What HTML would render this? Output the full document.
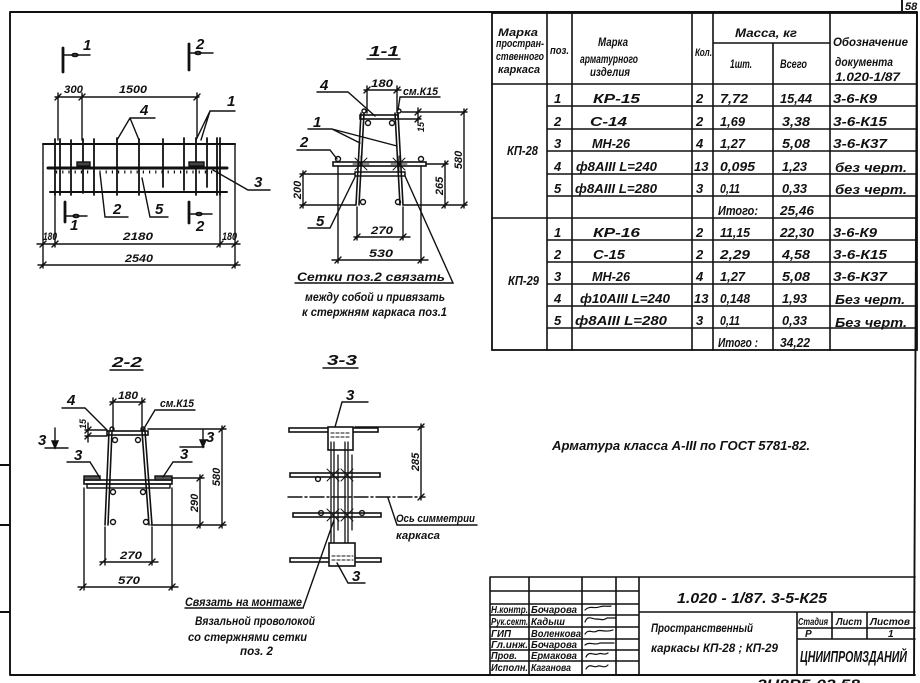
<!DOCTYPE html>
<html><head><meta charset="utf-8">
<style>
html,body{margin:0;padding:0;background:#fff;}
svg{display:block;}
text{font-family:"Liberation Sans","DejaVu Sans",sans-serif;font-style:italic;font-weight:bold;fill:#111;}
</style></head><body>
<svg width="920" height="683" viewBox="0 0 920 683" xmlns="http://www.w3.org/2000/svg">
<rect x="0" y="0" width="920" height="683" fill="#fff"/>
<g stroke="#111" fill="none" stroke-linecap="round" stroke-width="1.4">
<!-- frame -->
<path stroke-width="1.9" d="M10 12 H917 M10 12 V675 M10 675 H915 M917 12 L914 675 M902 0 V12 M0 465 H10 M0 525 H10 M0 612 H10"/>
<!-- table -->
<rect x="492" y="13" width="425" height="337" stroke-width="1.8"/>
<path stroke-width="1.6" d="M547 13 V350 M572 13 V350 M692 13 V350 M713 13 V350 M773 43 V350 M830 13 V350 M713 43 H830 M492 84 H917
M547 106 H917 M547 129 H917 M547 151 H917 M547 174 H917 M547 196 H917 M492 218 H917 M547 240 H917 M547 262 H917 M547 284 H917 M547 306 H917 M547 328 H917"/>
<!-- title block -->
<path stroke-width="1.6" d="M490 577 H915 M490 577 V675 M529 577 V675 M582 577 V675 M616 577 V675 M639 577 V675
M490 591 H639 M490 604 H639 M490 615 H639 M490 627 H639 M490 639 H639 M490 650 H639 M490 661 H639
M639 612 H915 M797 612 V675 M832 612 V639 M867 612 V639 M797 628 H915 M797 639 H915"/>
<path stroke-width="1.2" d="M585 610 c5 -5 9 -1 14 -3 s8 0 12 -1 M585 622 c3 -8 8 -2 12 -3 c4 0 6 2 10 -1 h8 M585 634 c4 -6 8 0 12 -3 c4 -2 8 2 16 -1 M585 645 c5 -4 10 1 15 -2 h14 M586 657 c3 -7 8 -1 12 -3 s6 2 10 -1 M586 669 c4 -7 8 0 12 -3 c3 -1 6 3 10 -1"/>

<!-- PLAN VIEW -->
<path stroke-width="2.8" d="M63 48 V72 M189 44 V70 M65 202 V222 M189 202 V223"/>
<path d="M63 55 H90 M189 53 H213 M65 216 H87 M189 214 H212"/>
<ellipse cx="75" cy="55" rx="3" ry="1.6"/><ellipse cx="198" cy="53" rx="3" ry="1.6"/><ellipse cx="76" cy="216" rx="3" ry="1.6"/><ellipse cx="199" cy="214" rx="3" ry="1.6"/>
<path stroke-width="2" d="M43 144 H235 M50 192 H227"/>
<path stroke-width="3" d="M48 168 H227"/>
<path stroke-width="3" stroke-dasharray="1.2 5" stroke-linecap="butt" d="M56 172 H222"/>
<path stroke-width="1.8" d="M55 139 V195 M60 139 V195 M71 140 V195 M83 139 V193 M94 139 V195 M117 138 V195 M139 139 V195 M163 139 V187 M184 138 V190 M196 138 V195 M207 138 V187 M217 138 V195 M220 138 V195"/>
<rect x="77" y="162" width="13" height="4" fill="#444"/><rect x="189" y="162" width="15" height="4" fill="#444"/>
<path d="M58 93 V140 M82 93 V140 M197 93 V138 M55 97 H199 M55 100 l6 -6 M79 100 l6 -6 M194 100 l6 -6"/>
<path d="M43 144 V268 M235 144 V268 M55 192 V247 M220 192 V247 M37 244 H240 M38 265 H240 M40 247 l6 -6 M52 247 l6 -6 M217 247 l6 -6 M232 247 l6 -6 M40 268 l6 -6 M232 268 l6 -6"/>
<path d="M130 118 H155 M130 118 L117 140 M130 118 L139 140 M210 111 H235 M210 111 L196 140 M210 111 L201 140 M213 170 L248 190 H270 M100 173 L105 217 H128 M142 178 L150 217 H168"/>

<!-- SECTION 1-1 -->
<path d="M367 59 H400"/>
<rect x="360" y="115" width="38" height="4" stroke-width="1.6"/>
<path stroke-width="1.6" d="M361 113 L356 205 M364 113 L359 205 M395 113 L400 205 M398 113 L403 205"/>
<rect x="333" y="162" width="93" height="4" stroke-width="1.6"/>
<rect x="355" y="172" width="50" height="4" stroke-width="1.5"/>
<circle cx="368" cy="123" r="2.5"/><circle cx="392" cy="123" r="2.5"/><circle cx="338" cy="159" r="2.5"/><circle cx="421" cy="159" r="2.5"/><circle cx="363" cy="202" r="2.5"/><circle cx="398" cy="202" r="2.5"/><circle cx="364" cy="111" r="2"/><circle cx="399" cy="111" r="2"/>
<path stroke-width="0.9" d="M355 158 L367 170 M367 158 L355 170 M361 156 V172 M353 164 H369 M393 158 L405 170 M405 158 L393 170 M399 156 V172 M391 164 H407"/>
<path d="M367 86 V113 M397 86 V113 M364 90 H401 M364 93 l6 -6 M394 93 l6 -6"/>
<path d="M400 97 H440 M400 97 L398 110"/>
<path d="M402 112 H467 M399 119 H421 M418 108 V123 M415 115 l6 -6 M415 122 l6 -6"/>
<path d="M464 109 V208 M461 115 l6 -6 M461 208 l6 -6 M426 164 H448 M403 205 H467 M445 161 V208 M442 167 l6 -6 M442 208 l6 -6"/>
<path d="M300 174 H355 M300 205 H356 M303 171 V208 M300 177 l6 -6 M300 208 l6 -6"/>
<path d="M357 207 V240 M403 207 V240 M354 237 H410 M354 240 l6 -6 M400 240 l6 -6"/>
<path d="M338 166 V263 M421 166 V263 M332 260 H428 M335 263 l6 -6 M418 263 l6 -6"/>
<path d="M317 92 H348 L375 116 M308 129 H332 L360 143 M332 129 L397 146 M297 150 H330 L337 159 M308 228 H330 L355 177"/>
<path d="M405 176 L453 283 H295"/>

<!-- SECTION 2-2 -->
<path d="M110 370 H143"/>
<rect x="107" y="431" width="41" height="4" stroke-width="1.6"/>
<path stroke-width="1.6" d="M109 431 L105 525 M112 431 L108 525 M142 431 L149 525 M145 431 L152 525"/>
<rect x="84" y="480" width="88" height="4" stroke-width="1.6"/>
<rect x="87" y="484" width="83" height="4" stroke-width="1.4"/>
<rect x="84" y="476" width="16" height="4" fill="#555"/><rect x="155" y="476" width="17" height="4" fill="#555"/>
<circle cx="115" cy="440" r="2.5"/><circle cx="138" cy="440" r="2.5"/><circle cx="113" cy="492" r="2.5"/><circle cx="143" cy="492" r="2.5"/><circle cx="113" cy="522" r="2.5"/><circle cx="146" cy="522" r="2.5"/><circle cx="112" cy="429" r="2"/><circle cx="143" cy="429" r="2"/>
<path d="M113 398 V431 M142 398 V431 M110 402 H145 M110 405 l6 -6 M139 405 l6 -6"/>
<path d="M155 410 H195 M155 410 L143 430 M62 408 H85 L107 430"/>
<path d="M85 430 H107 M85 436 H107 M88 423 V442 M85 433 l6 -6 M85 439 l6 -6"/>
<path d="M55 428 V447 M45 448 H68 M180 447 H204 M203 430 V447"/>
<path fill="#111" d="M52 441 L55 448 L58 441 Z M200 440 L203 447 L206 440 Z"/>
<path d="M67 462 H90 L100 478 M192 462 H173 L163 477"/>
<path d="M148 429 H226 M151 525 H226 M222 426 V528 M219 432 l6 -6 M219 528 l6 -6 M172 478 H204 M200 475 V528 M197 481 l6 -6 M197 528 l6 -6"/>
<path d="M105 527 V565 M152 527 V565 M100 562 H158 M100 565 l6 -6 M149 565 l6 -6"/>
<path d="M84 488 V590 M172 488 V590 M78 587 H178 M80 590 l6 -6 M169 590 l6 -6"/>

<!-- SECTION 3-3 -->
<path d="M323 368 H358"/>
<path d="M342 402 H368 M342 402 L335 427"/>
<rect x="289" y="428" width="89" height="4" stroke-width="1.6"/>
<rect x="290" y="473" width="90" height="4" stroke-width="1.6"/>
<rect x="293" y="513" width="88" height="4" stroke-width="1.6"/>
<rect x="290" y="558" width="91" height="4" stroke-width="1.6"/>
<rect x="328" y="427" width="25" height="23" fill="#fff" stroke-width="1.6"/>
<rect x="329" y="543" width="26" height="23" fill="#fff" stroke-width="1.6"/>
<path stroke-width="1.1" stroke-dasharray="3 2" d="M331 433 H351 M331 437 H351 M332 556 H353 M332 560 H353"/>
<path stroke-width="1.3" d="M331 442 V543 M334 442 V543 M338 455 V530 M345 442 V543 M348 442 V543 M352 455 V530"/>
<circle cx="318" cy="479" r="2.4"/><circle cx="321" cy="513" r="2.4"/><circle cx="362" cy="513" r="2.4"/>
<path stroke-width="0.9" d="M327 469 L339 481 M339 469 L327 481 M341 469 L353 481 M353 469 L341 481 M327 509 L339 521 M339 509 L327 521 M341 509 L353 521 M353 509 L341 521"/>
<path d="M355 427 H424 M421 424 V500 M418 430 l6 -6 M418 500 l6 -6"/>
<path stroke-dasharray="14 3 2 3" d="M288 497 H425"/>
<path d="M388 498 L397 525 H477"/>
<path d="M337 563 L348 583 H365"/>
<path d="M303 608 L334 520"/>
<path d="M185 608 H303"/>
</g>

<!-- TEXTS -->
<g font-size="13">
<text x="905" y="10" font-size="11">58</text>
<!-- table header -->
<text x="498" y="36" font-size="11" textLength="40" lengthAdjust="spacingAndGlyphs">Марка</text>
<text x="496" y="47" font-size="11" textLength="48" lengthAdjust="spacingAndGlyphs">простран-</text>
<text x="496" y="60" font-size="11" textLength="48" lengthAdjust="spacingAndGlyphs">ственного</text>
<text x="498" y="73" font-size="11" textLength="42" lengthAdjust="spacingAndGlyphs">каркаса</text>
<text x="550" y="54" font-size="11" textLength="19" lengthAdjust="spacingAndGlyphs">поз.</text>
<text x="598" y="46" font-size="12" textLength="30" lengthAdjust="spacingAndGlyphs">Марка</text>
<text x="580" y="63" font-size="12" textLength="58" lengthAdjust="spacingAndGlyphs">арматурного</text>
<text x="590" y="76" font-size="12" textLength="40" lengthAdjust="spacingAndGlyphs">изделия</text>
<text x="695" y="56" font-size="11" textLength="17" lengthAdjust="spacingAndGlyphs">Кол.</text>
<text x="735" y="37" font-size="12" textLength="62" lengthAdjust="spacingAndGlyphs">Масса, кг</text>
<text x="730" y="68" font-size="12" textLength="22" lengthAdjust="spacingAndGlyphs">1шт.</text>
<text x="780" y="68" font-size="12" textLength="27" lengthAdjust="spacingAndGlyphs">Всего</text>
<text x="833" y="46" font-size="12" textLength="75" lengthAdjust="spacingAndGlyphs">Обозначение</text>
<text x="835" y="66" font-size="12" textLength="58" lengthAdjust="spacingAndGlyphs">документа</text>
<text x="835" y="81" font-size="12" textLength="65" lengthAdjust="spacingAndGlyphs">1.020-1/87</text>
<!-- КП-28 -->
<text x="507" y="155" textLength="31" lengthAdjust="spacingAndGlyphs">КП-28</text>
<text x="554" y="103">1</text><text x="593" y="103" textLength="47" lengthAdjust="spacingAndGlyphs">КР-15</text><text x="696" y="103">2</text><text x="720" y="103" textLength="28" lengthAdjust="spacingAndGlyphs">7,72</text><text x="780" y="103" textLength="32" lengthAdjust="spacingAndGlyphs">15,44</text><text x="833" y="103" textLength="44" lengthAdjust="spacingAndGlyphs">3-6-К9</text>
<text x="554" y="126">2</text><text x="590" y="126" textLength="37" lengthAdjust="spacingAndGlyphs">С-14</text><text x="696" y="126">2</text><text x="720" y="126" textLength="25" lengthAdjust="spacingAndGlyphs">1,69</text><text x="782" y="126" textLength="28" lengthAdjust="spacingAndGlyphs">3,38</text><text x="833" y="126" textLength="54" lengthAdjust="spacingAndGlyphs">3-6-К15</text>
<text x="554" y="148">3</text><text x="592" y="148" textLength="38" lengthAdjust="spacingAndGlyphs">МН-26</text><text x="696" y="148">4</text><text x="720" y="148" textLength="25" lengthAdjust="spacingAndGlyphs">1,27</text><text x="782" y="148" textLength="28" lengthAdjust="spacingAndGlyphs">5,08</text><text x="833" y="148" textLength="54" lengthAdjust="spacingAndGlyphs">3-6-К37</text>
<text x="554" y="171">4</text><text x="576" y="171" textLength="81" lengthAdjust="spacingAndGlyphs">ф8АIII  L=240</text><text x="694" y="171">13</text><text x="720" y="171" textLength="35" lengthAdjust="spacingAndGlyphs">0,095</text><text x="782" y="171" textLength="25" lengthAdjust="spacingAndGlyphs">1,23</text><text x="835" y="172" textLength="72" lengthAdjust="spacingAndGlyphs">без черт.</text>
<text x="554" y="193">5</text><text x="575" y="193" textLength="82" lengthAdjust="spacingAndGlyphs">ф8АIII  L=280</text><text x="696" y="193">3</text><text x="720" y="193" textLength="20" lengthAdjust="spacingAndGlyphs">0,11</text><text x="782" y="193" textLength="25" lengthAdjust="spacingAndGlyphs">0,33</text><text x="835" y="194" textLength="72" lengthAdjust="spacingAndGlyphs">без черт.</text>
<text x="718" y="215" textLength="40" lengthAdjust="spacingAndGlyphs">Итого:</text><text x="780" y="215" textLength="34" lengthAdjust="spacingAndGlyphs">25,46</text>
<!-- КП-29 -->
<text x="508" y="285" textLength="31" lengthAdjust="spacingAndGlyphs">КП-29</text>
<text x="554" y="237">1</text><text x="593" y="237" textLength="47" lengthAdjust="spacingAndGlyphs">КР-16</text><text x="696" y="237">2</text><text x="720" y="237" textLength="30" lengthAdjust="spacingAndGlyphs">11,15</text><text x="780" y="237" textLength="34" lengthAdjust="spacingAndGlyphs">22,30</text><text x="833" y="237" textLength="44" lengthAdjust="spacingAndGlyphs">3-6-К9</text>
<text x="554" y="259">2</text><text x="593" y="259" textLength="32" lengthAdjust="spacingAndGlyphs">С-15</text><text x="696" y="259">2</text><text x="720" y="259" textLength="30" lengthAdjust="spacingAndGlyphs">2,29</text><text x="782" y="259" textLength="28" lengthAdjust="spacingAndGlyphs">4,58</text><text x="833" y="259" textLength="54" lengthAdjust="spacingAndGlyphs">3-6-К15</text>
<text x="554" y="281">3</text><text x="592" y="281" textLength="38" lengthAdjust="spacingAndGlyphs">МН-26</text><text x="696" y="281">4</text><text x="720" y="281" textLength="25" lengthAdjust="spacingAndGlyphs">1,27</text><text x="782" y="281" textLength="28" lengthAdjust="spacingAndGlyphs">5,08</text><text x="833" y="281" textLength="54" lengthAdjust="spacingAndGlyphs">3-6-К37</text>
<text x="554" y="303">4</text><text x="580" y="303" textLength="90" lengthAdjust="spacingAndGlyphs">ф10АIII  L=240</text><text x="694" y="303">13</text><text x="720" y="303" textLength="30" lengthAdjust="spacingAndGlyphs">0,148</text><text x="782" y="303" textLength="25" lengthAdjust="spacingAndGlyphs">1,93</text><text x="835" y="304" textLength="70" lengthAdjust="spacingAndGlyphs">Без черт.</text>
<text x="554" y="325">5</text><text x="575" y="325" textLength="92" lengthAdjust="spacingAndGlyphs">ф8АIII   L=280</text><text x="696" y="325">3</text><text x="720" y="325" textLength="20" lengthAdjust="spacingAndGlyphs">0,11</text><text x="782" y="325" textLength="25" lengthAdjust="spacingAndGlyphs">0,33</text><text x="835" y="327" textLength="72" lengthAdjust="spacingAndGlyphs">Без черт.</text>
<text x="718" y="347" textLength="40" lengthAdjust="spacingAndGlyphs">Итого :</text><text x="780" y="347" textLength="30" lengthAdjust="spacingAndGlyphs">34,22</text>

<!-- title block texts -->
<g font-size="10">
<text x="491" y="613" textLength="37" lengthAdjust="spacingAndGlyphs">Н.контр.</text><text x="531" y="613" textLength="46" lengthAdjust="spacingAndGlyphs">Бочарова</text>
<text x="491" y="625" textLength="37" lengthAdjust="spacingAndGlyphs">Рук.сект.</text><text x="531" y="625" textLength="34" lengthAdjust="spacingAndGlyphs">Кадыш</text>
<text x="491" y="637" textLength="20" lengthAdjust="spacingAndGlyphs">ГИП</text><text x="531" y="637" textLength="50" lengthAdjust="spacingAndGlyphs">Воленкова</text>
<text x="491" y="648" textLength="37" lengthAdjust="spacingAndGlyphs">Гл.инж.</text><text x="531" y="648" textLength="46" lengthAdjust="spacingAndGlyphs">Бочарова</text>
<text x="491" y="659" textLength="26" lengthAdjust="spacingAndGlyphs">Пров.</text><text x="531" y="659" textLength="46" lengthAdjust="spacingAndGlyphs">Ермакова</text>
<text x="491" y="671" textLength="37" lengthAdjust="spacingAndGlyphs">Исполн.</text><text x="531" y="671" textLength="40" lengthAdjust="spacingAndGlyphs">Каганова</text>
<text x="798" y="625" textLength="30" lengthAdjust="spacingAndGlyphs">Стадия</text><text x="836" y="625" textLength="26" lengthAdjust="spacingAndGlyphs">Лист</text><text x="870" y="625" textLength="40" lengthAdjust="spacingAndGlyphs">Листов</text>
<text x="805" y="637">Р</text><text x="888" y="637">1</text>
</g>
<text x="677" y="603" font-size="15" textLength="150" lengthAdjust="spacingAndGlyphs">1.020 - 1/87. 3-5-К25</text>
<text x="651" y="632" font-size="12" textLength="102" lengthAdjust="spacingAndGlyphs">Пространственный</text>
<text x="651" y="652" font-size="12" textLength="127" lengthAdjust="spacingAndGlyphs">каркасы  КП-28 ; КП-29</text>
<text x="800" y="662" font-size="16" textLength="107" lengthAdjust="spacingAndGlyphs">ЦНИИПРОМЗДАНИЙ</text>
<text x="757" y="689" font-size="14" textLength="103" lengthAdjust="spacingAndGlyphs">2Ч8Р5-02     58</text>

<!-- plan labels -->
<g font-size="15">
<text x="83" y="50">1</text><text x="196" y="49">2</text><text x="70" y="230">1</text><text x="196" y="231">2</text>
<text x="140" y="115">4</text><text x="227" y="106">1</text><text x="254" y="187">3</text><text x="113" y="214">2</text><text x="155" y="214">5</text>
</g>
<g font-size="11">
<text x="64" y="93" textLength="19" lengthAdjust="spacingAndGlyphs">300</text>
<text x="119" y="93" textLength="28" lengthAdjust="spacingAndGlyphs">1500</text>
<text x="43" y="240" textLength="14" lengthAdjust="spacingAndGlyphs">180</text>
<text x="123" y="240" textLength="30" lengthAdjust="spacingAndGlyphs">2180</text>
<text x="222" y="240" textLength="15" lengthAdjust="spacingAndGlyphs">180</text>
<text x="125" y="262" textLength="28" lengthAdjust="spacingAndGlyphs">2540</text>
</g>

<!-- 1-1 labels -->
<text x="369" y="56" font-size="15" textLength="30" lengthAdjust="spacingAndGlyphs">1-1</text>
<g font-size="15"><text x="320" y="90">4</text><text x="313" y="127">1</text><text x="300" y="147">2</text><text x="316" y="226">5</text></g>
<g font-size="11">
<text x="371" y="87" textLength="22" lengthAdjust="spacingAndGlyphs">180</text>
<text x="403" y="95" textLength="35" lengthAdjust="spacingAndGlyphs">см.К15</text>
<text x="371" y="234" textLength="22" lengthAdjust="spacingAndGlyphs">270</text>
<text x="369" y="257" textLength="24" lengthAdjust="spacingAndGlyphs">530</text>
<text transform="translate(462 160) rotate(-90)" text-anchor="middle">580</text>
<text transform="translate(443 186) rotate(-90)" text-anchor="middle">265</text>
<text transform="translate(301 190) rotate(-90)" text-anchor="middle">200</text>
<text transform="translate(424 127) rotate(-90)" text-anchor="middle" font-size="9">15</text>
</g>
<g font-size="12">
<text x="297" y="281" textLength="148" lengthAdjust="spacingAndGlyphs">Сетки поз.2 связать</text>
<text x="305" y="301" textLength="140" lengthAdjust="spacingAndGlyphs">между собой и привязать</text>
<text x="302" y="316" textLength="145" lengthAdjust="spacingAndGlyphs">к стержням каркаса поз.1</text>
</g>

<!-- 2-2 labels -->
<text x="112" y="367" font-size="15" textLength="30" lengthAdjust="spacingAndGlyphs">2-2</text>
<g font-size="15"><text x="67" y="405">4</text><text x="38" y="445">3</text><text x="206" y="442">3</text><text x="74" y="460">3</text><text x="180" y="459">3</text></g>
<g font-size="11">
<text x="118" y="399" textLength="20" lengthAdjust="spacingAndGlyphs">180</text>
<text x="160" y="407" textLength="34" lengthAdjust="spacingAndGlyphs">см.К15</text>
<text x="120" y="559" textLength="22" lengthAdjust="spacingAndGlyphs">270</text>
<text x="118" y="584" textLength="22" lengthAdjust="spacingAndGlyphs">570</text>
<text transform="translate(220 477) rotate(-90)" text-anchor="middle">580</text>
<text transform="translate(198 503) rotate(-90)" text-anchor="middle">290</text>
<text transform="translate(86 424) rotate(-90)" text-anchor="middle" font-size="9">15</text>
</g>

<!-- 3-3 labels -->
<text x="327" y="365" font-size="15" textLength="30" lengthAdjust="spacingAndGlyphs">3-3</text>
<g font-size="15"><text x="346" y="400">3</text><text x="352" y="581">3</text></g>
<text transform="translate(419 462) rotate(-90)" text-anchor="middle" font-size="11">285</text>
<text x="396" y="522" font-size="11" textLength="79" lengthAdjust="spacingAndGlyphs">Ось симметрии</text>
<text x="396" y="539" font-size="11" textLength="44" lengthAdjust="spacingAndGlyphs">каркаса</text>

<g font-size="12">
<text x="185" y="606" textLength="117" lengthAdjust="spacingAndGlyphs">Связать на монтаже</text>
<text x="195" y="625" textLength="120" lengthAdjust="spacingAndGlyphs">Вязальной проволокой</text>
<text x="188" y="641" textLength="119" lengthAdjust="spacingAndGlyphs">со  стержнями  сетки</text>
<text x="240" y="655" textLength="33" lengthAdjust="spacingAndGlyphs">поз. 2</text>
</g>

<text x="552" y="450" font-size="13" textLength="258" lengthAdjust="spacingAndGlyphs">Арматура  класса  А-III  по  ГОСТ  5781-82.</text>
</g>
</svg>
</body></html>
